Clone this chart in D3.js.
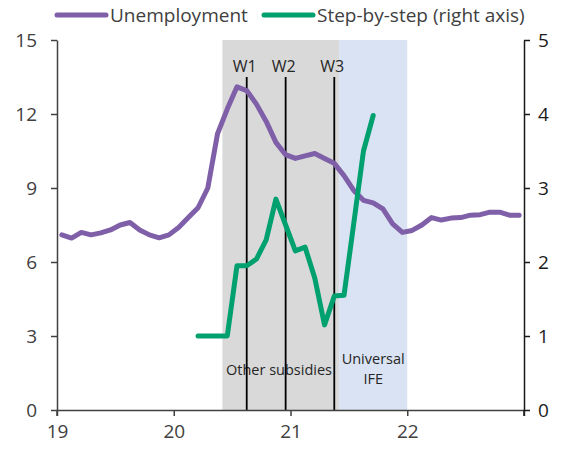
<!DOCTYPE html>
<html>
<head>
<meta charset="utf-8">
<script src="https://cdn.jsdelivr.net/npm/d3@7"></script>
<style>
  html, body { margin: 0; padding: 0; background: #fff; }
  svg { display: block; font-family: "Open Sans", "Noto Sans", sans-serif; }
</style>
</head>
<body>
<svg id="chart" width="561" height="451"></svg>
<script>
// Monthly unemployment rate, Jan 2019 – Dec 2022 (left axis, %)
const unemployment = [
  7.1, 6.97, 7.2, 7.1, 7.18, 7.3, 7.5, 7.6, 7.3, 7.1, 6.98, 7.1,
  7.4, 7.8, 8.2, 9.0, 11.2, 12.2, 13.1, 12.95, 12.4, 11.7, 10.85, 10.35,
  10.2, 10.3, 10.4, 10.2, 10.0, 9.5, 8.9, 8.5, 8.4, 8.15, 7.55, 7.2,
  7.28, 7.5, 7.8, 7.7, 7.78, 7.8, 7.9, 7.92, 8.02, 8.02, 7.9, 7.9
];
const unemploymentStart = 2019; // first month: Jan 2019

// Step-by-step plan phase, Mar 2020 – Sep 2021 (right axis)
const stepByStep = [
  1.0, 1.0, 1.0, 1.0, 1.95, 1.95, 2.04, 2.3, 2.85, 2.5,
  2.15, 2.2, 1.78, 1.15, 1.54, 1.55, 2.52, 3.5, 3.98
];
const stepStartMonth = 2; // March 2020 (0-based month of 2020)

// Shaded periods and markers (in years)
const periods = [
  { label: ["Other subsidies"], from: 2020 + 5 / 12, to: 2021 + 5 / 12, fill: "#d9d9d9" },
  { label: ["Universal", "IFE"], from: 2021 + 5 / 12, to: 2022, fill: "#dae3f3" }
];
const markers = [
  { label: "W1", at: 2020 + 7.5 / 12 },
  { label: "W2", at: 2020 + 11.5 / 12 },
  { label: "W3", at: 2021 + 4.5 / 12 }
];

const xTicks = [2019, 2020, 2021, 2022, 2023];
const xTickLabels = ["19", "20", "21", "22", ""];
const leftTicks = [0, 3, 6, 9, 12, 15];
const rightTicks = [0, 1, 2, 3, 4, 5];

const purple = "#7f5fa8";
const green = "#00a06f";

const svg = d3.select("#chart");
const m = { left: 57, right: 524, top: 40, bottom: 410 };

const x = d3.scaleLinear().domain([2019, 2023]).range([m.left, m.right]);
const yL = d3.scaleLinear().domain([0, 15]).range([m.bottom, m.top]);
const yR = d3.scaleLinear().domain([0, 5]).range([m.bottom, m.top]);

// Shaded periods
svg.append("g").selectAll("rect").data(periods).join("rect")
  .attr("x", d => x(d.from)).attr("width", d => x(d.to) - x(d.from))
  .attr("y", m.top).attr("height", m.bottom - m.top)
  .attr("fill", d => d.fill);

// Period labels
const periodLabel = svg.append("g").attr("font-size", 14.5).attr("fill", "#262626")
  .attr("text-anchor", "middle");
periodLabel.append("text").attr("x", 279).attr("y", 375)
  .text(periods[0].label[0]);
periodLabel.append("text")
  .selectAll("tspan").data(periods[1].label).join("tspan")
  .attr("x", x((periods[1].from + periods[1].to) / 2))
  .attr("y", (d, i) => 364 + i * 20).text(d => d);

// Vertical marker lines
const mk = svg.append("g");
mk.selectAll("line").data(markers).join("line")
  .attr("x1", d => x(d.at)).attr("x2", d => x(d.at))
  .attr("y1", 77).attr("y2", m.bottom)
  .attr("stroke", "#000").attr("stroke-width", 1.8);
mk.selectAll("text").data(markers).join("text")
  .attr("x", d => x(d.at) - 2).attr("y", 72)
  .attr("text-anchor", "middle").attr("font-size", 16).attr("fill", "#262626")
  .text(d => d.label);

// Axes
const axisColor = "#404040";
const gx = svg.append("g").attr("transform", `translate(0,${m.bottom})`)
  .call(d3.axisBottom(x).tickValues(xTicks).tickFormat((d, i) => xTickLabels[i])
    .tickSize(6).tickSizeOuter(0).tickPadding(9));
const gl = svg.append("g").attr("transform", `translate(${m.left},0)`)
  .call(d3.axisLeft(yL).tickValues(leftTicks).tickFormat(d3.format("d"))
    .tickSize(6).tickSizeOuter(0).tickPadding(14));
const gr = svg.append("g").attr("transform", `translate(${m.right},0)`)
  .call(d3.axisRight(yR).tickValues(rightTicks).tickFormat(d3.format("d"))
    .tickSize(6).tickSizeOuter(0).tickPadding(8));

[gx, gl, gr].forEach(g => {
  g.select(".domain").attr("stroke", axisColor).attr("stroke-width", 1.5);
  g.selectAll(".tick line").attr("stroke", axisColor).attr("stroke-width", 1.5);
  g.selectAll(".tick text").attr("font-size", 19).attr("fill", "#404040")
    .attr("font-family", "'Open Sans', 'Noto Sans', sans-serif");
});
gr.select(".domain").attr("stroke", "#1a1a1a");
gr.selectAll(".tick line").attr("stroke", "#1a1a1a");
gr.selectAll(".tick text").attr("fill", "#1a1a1a");
// vertical axes extend slightly below the baseline
svg.append("g").selectAll("line").data([m.left, m.right]).join("line")
  .attr("x1", d => d).attr("x2", d => d).attr("y1", m.bottom).attr("y2", m.bottom + 6)
  .attr("stroke", (d, i) => i ? "#1a1a1a" : axisColor).attr("stroke-width", 1.5);

// Lines
const uData = unemployment.map((v, i) => ({ t: unemploymentStart + (i + 0.5) / 12, v }));
const sData = stepByStep.map((v, i) => ({ t: 2020 + (stepStartMonth + i + 0.5) / 12, v }));

svg.append("path").datum(uData)
  .attr("fill", "none").attr("stroke", purple).attr("stroke-width", 5)
  .attr("stroke-linejoin", "round").attr("stroke-linecap", "round")
  .attr("d", d3.line().x(d => x(d.t)).y(d => yL(d.v)));

svg.append("path").datum(sData)
  .attr("fill", "none").attr("stroke", green).attr("stroke-width", 5)
  .attr("stroke-linejoin", "round").attr("stroke-linecap", "round")
  .attr("d", d3.line().x(d => x(d.t)).y(d => yR(d.v)));

// Legend
const legend = svg.append("g").attr("font-size", 19).attr("fill", "#404040");
const items = [
  { name: "Unemployment", color: purple, x0: 57 },
  { name: "Step-by-step (right axis)", color: green, x0: 264 }
];
items.forEach(it => {
  legend.append("line").attr("x1", it.x0).attr("x2", it.x0 + 49)
    .attr("y1", 15).attr("y2", 15)
    .attr("stroke", it.color).attr("stroke-width", 5).attr("stroke-linecap", "round");
  legend.append("text").attr("x", it.x0 + 53).attr("y", 21.5).text(it.name);
});
</script>
</body>
</html>
